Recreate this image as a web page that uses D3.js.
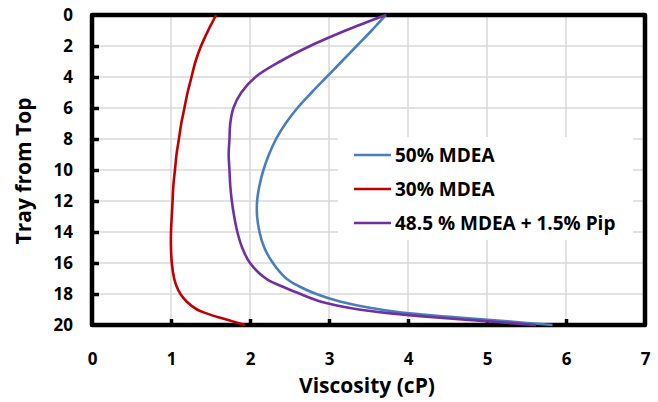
<!DOCTYPE html>
<html>
<head>
<meta charset="utf-8">
<script src="https://cdn.jsdelivr.net/npm/d3@7/dist/d3.min.js"></script>
<style>
  body { margin: 0; background: #fff; }
  text { font-family: "Open Sans", Lato, sans-serif; font-weight: bold; fill: #000; }
</style>
</head>
<body>
<div id="chart"></div>
<script>
// tray positions (from top) where the curves were read
var trays = [0, 0.5, 1, 2, 3, 4, 5, 6, 7, 8, 9, 10, 11, 12, 13, 14, 15, 16, 17, 17.5, 18, 18.5, 19, 19.25, 19.5, 19.75, 20];

// viscosity (cP) of each solvent at those trays
var mdea50 = [3.72, 3.63, 3.54, 3.35, 3.16, 2.97, 2.78, 2.60, 2.45, 2.33, 2.24, 2.17, 2.12, 2.09, 2.09, 2.12, 2.18, 2.29, 2.46, 2.62, 2.84, 3.15, 3.65, 4.02, 4.60, 5.22, 5.83];
var mdea30 = [1.57, 1.52, 1.47, 1.38, 1.31, 1.26, 1.21, 1.17, 1.13, 1.10, 1.07, 1.05, 1.03, 1.02, 1.01, 1.00, 1.00, 1.01, 1.04, 1.07, 1.12, 1.20, 1.33, 1.45, 1.60, 1.77, 1.94];
var mdeaPip = [3.72, 3.46, 3.21, 2.76, 2.38, 2.07, 1.89, 1.79, 1.75, 1.74, 1.73, 1.74, 1.75, 1.77, 1.80, 1.84, 1.90, 2.00, 2.20, 2.40, 2.64, 2.90, 3.38, 3.78, 4.32, 4.98, 5.62];

var seriesNames = ["50% MDEA", "30% MDEA", "48.5 % MDEA + 1.5% Pip"];
var seriesColors = ["#4a7ebb", "#c00000", "#7030a0"];
var xTicks = [0, 1, 2, 3, 4, 5, 6, 7];
var yTicks = [0, 2, 4, 6, 8, 10, 12, 14, 16, 18, 20];

var w = 658, h = 402;
var pLeft = 92, pRight = 645, pTop = 15, pBottom = 325;

var svg = d3.select("#chart").append("svg")
    .attr("width", w).attr("height", h);

var x = d3.scaleLinear().domain([0, 7]).range([pLeft, pRight]);
var y = d3.scaleLinear().domain([0, 20]).range([pTop, pBottom]);

//gridlines
svg.append("g").selectAll("line")
    .data(xTicks.slice(1, -1))
    .enter().append("line")
    .attr("x1", function(d){ return x(d); }).attr("x2", function(d){ return x(d); })
    .attr("y1", pTop).attr("y2", pBottom)
    .attr("stroke", "#d9d9d9").attr("stroke-width", 1.5);

svg.append("g").selectAll("line")
    .data(yTicks.slice(1, -1))
    .enter().append("line")
    .attr("y1", function(d){ return y(d); }).attr("y2", function(d){ return y(d); })
    .attr("x1", pLeft).attr("x2", pRight)
    .attr("stroke", "#d9d9d9").attr("stroke-width", 1.5);

//axes with inward ticks
var yAxis = d3.axisLeft(y).tickValues(yTicks).tickFormat(d3.format("d"))
    .tickSizeInner(-7).tickSizeOuter(0).tickPadding(19);
var xAxis = d3.axisBottom(x).tickValues(xTicks).tickFormat(d3.format("d"))
    .tickSizeInner(-6).tickSizeOuter(0).tickPadding(28);

var gy = svg.append("g").attr("transform", "translate(" + pLeft + ",0)").call(yAxis);
var gx = svg.append("g").attr("transform", "translate(0," + pBottom + ")").call(xAxis);

[gx, gy].forEach(function(g){
    g.select(".domain").remove();
    g.selectAll(".tick line").attr("stroke", "#000").attr("stroke-width", 3.5);
    g.selectAll(".tick text").style("font-size", "17px").style("font-family", "'Open Sans', sans-serif");
});
gy.selectAll(".tick line").filter(function(d){ return d == 0 || d == 20; }).remove();
gx.selectAll(".tick line").filter(function(d){ return d == 0 || d == 7; }).remove();

//frame
svg.append("rect")
    .attr("x", pLeft).attr("y", pTop)
    .attr("width", pRight - pLeft).attr("height", pBottom - pTop)
    .attr("fill", "none").attr("stroke", "#000")
    .attr("stroke-width", 4.5).attr("stroke-linejoin", "round");

//curves
var line = d3.line()
    .x(function(d){ return x(d[1]); })
    .y(function(d){ return y(d[0]); })
    .curve(d3.curveCatmullRom.alpha(0.5));

var series = [mdea50, mdea30, mdeaPip];
series.forEach(function(vals, i){
    svg.append("path")
        .datum(trays.map(function(t, j){ return [t, vals[j]]; }))
        .attr("d", line)
        .attr("fill", "none")
        .attr("stroke", seriesColors[i])
        .attr("stroke-width", 2.6);
});

//legend
var legend = svg.append("g");
legend.append("rect")
    .attr("x", 338).attr("y", 137).attr("width", 295).attr("height", 103)
    .attr("fill", "#fff");

var items = legend.selectAll(".item")
    .data(seriesNames)
    .enter().append("g")
    .attr("transform", function(d, i){ return "translate(354," + (155 + i * 34) + ")"; });

items.append("line")
    .attr("x1", 0).attr("x2", 37)
    .attr("stroke", function(d, i){ return seriesColors[i]; })
    .attr("stroke-width", 2.6);

items.append("text")
    .attr("x", 41).attr("dy", "0.36em")
    .style("font-size", "19px")
    .text(function(d){ return d; });

//axis titles
svg.append("text")
    .attr("x", 367).attr("y", 393)
    .attr("text-anchor", "middle")
    .style("font-size", "21px")
    .text("Viscosity (cP)");

svg.append("text")
    .attr("transform", "translate(31,171) rotate(-90)")
    .attr("text-anchor", "middle")
    .style("font-size", "21px")
    .text("Tray from Top");
</script>
</body>
</html>
